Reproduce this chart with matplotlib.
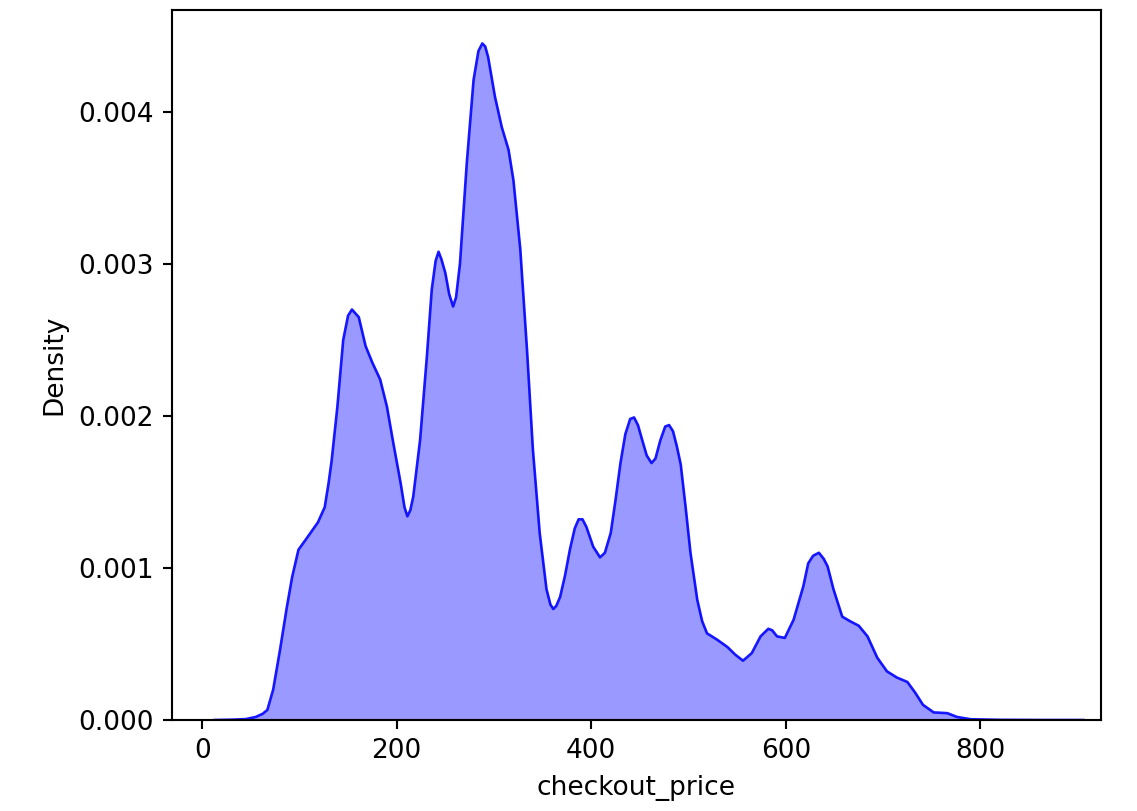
import numpy as np
import matplotlib
matplotlib.use('Agg')
import matplotlib.pyplot as plt

# KDE curve of checkout_price
checkout_price = [13, 30, 45, 55, 62, 67, 73, 80, 87, 92.5, 99, 108, 119, 126, 130,
                  133, 139, 145, 150, 154, 161, 168, 175, 183, 190, 196, 204, 208,
                  211, 214, 217, 224, 231, 236, 240, 243, 246, 250, 254, 258, 261,
                  265, 272, 279, 284, 288, 291, 294, 301, 308, 315, 320, 327, 334,
                  340, 347, 354, 358, 361, 364, 368, 373, 378, 383, 387, 391, 395,
                  402, 409, 414, 420, 425, 430, 435, 440, 444, 448, 452, 457, 462,
                  466, 471, 476, 480, 484, 488, 492, 497, 502, 509, 514, 519, 529,
                  540, 548, 556, 565, 574, 582, 586, 591, 599, 608, 618, 623, 628,
                  634, 639, 643, 649, 658, 666, 675, 684, 694, 704, 714, 725, 733,
                  741, 752, 766, 776, 790, 820, 860, 906]

density = [0.0, 0.000002, 0.000006, 0.00002, 0.00004, 0.000066, 0.0002, 0.00046,
           0.00074, 0.00094, 0.00112, 0.0012, 0.0013, 0.0014, 0.00156,
           0.0017, 0.00206, 0.0025, 0.00266, 0.0027, 0.00265, 0.00246, 0.00235,
           0.00224, 0.00206, 0.00184, 0.00156, 0.0014,
           0.00134, 0.00138, 0.00147, 0.00184, 0.00239, 0.00283, 0.00302, 0.00308,
           0.00303, 0.00294, 0.0028, 0.00272, 0.00278,
           0.003, 0.00366, 0.00421, 0.0044, 0.00445, 0.00443, 0.00436, 0.0041,
           0.0039, 0.00375, 0.00355, 0.0031, 0.00243,
           0.00178, 0.00123, 0.00086, 0.00076, 0.00073, 0.00075, 0.00081, 0.00095,
           0.00112, 0.00126, 0.00132, 0.00132, 0.00127,
           0.00114, 0.00107, 0.0011, 0.00123, 0.00145, 0.00169, 0.00188, 0.00198,
           0.00199, 0.00194, 0.00185, 0.00174, 0.00169,
           0.00172, 0.00184, 0.00193, 0.00194, 0.0019, 0.0018, 0.00168, 0.0014,
           0.0011, 0.00079, 0.00065, 0.00057, 0.00053,
           0.00048, 0.00043, 0.00039, 0.00044, 0.00055, 0.0006, 0.00059, 0.00055,
           0.00054, 0.00066, 0.00088, 0.00103, 0.00108,
           0.0011, 0.00106, 0.00101, 0.00086, 0.00068, 0.00065, 0.00062, 0.00055,
           0.00041, 0.00032, 0.00028, 0.00025, 0.00018,
           0.0001, 0.00005, 0.000045, 0.00002, 0.000005, 0.000001, 0.0, 0.0]

x_ticks = [0, 200, 400, 600, 800]
y_ticks = [0.0, 0.001, 0.002, 0.003, 0.004]

fig = plt.figure(figsize=(1137 / 190, 811 / 190), dpi=190)
ax = fig.add_axes([172 / 1137, 1 - 720 / 811, (1101 - 172) / 1137, (720 - 10) / 811])

ax.fill_between(checkout_price, density, color='blue', alpha=0.4, linewidth=0)
ax.plot(checkout_price, density, color='blue', linewidth=1.0, alpha=0.9)

ax.set_xlim(-31, 924)
ax.set_ylim(0, 0.00467)
ax.set_xticks(x_ticks)
ax.set_yticks(y_ticks)
ax.set_xlabel('checkout_price')
ax.set_ylabel('Density')

fig.savefig('out.png', dpi=190, facecolor='white')
